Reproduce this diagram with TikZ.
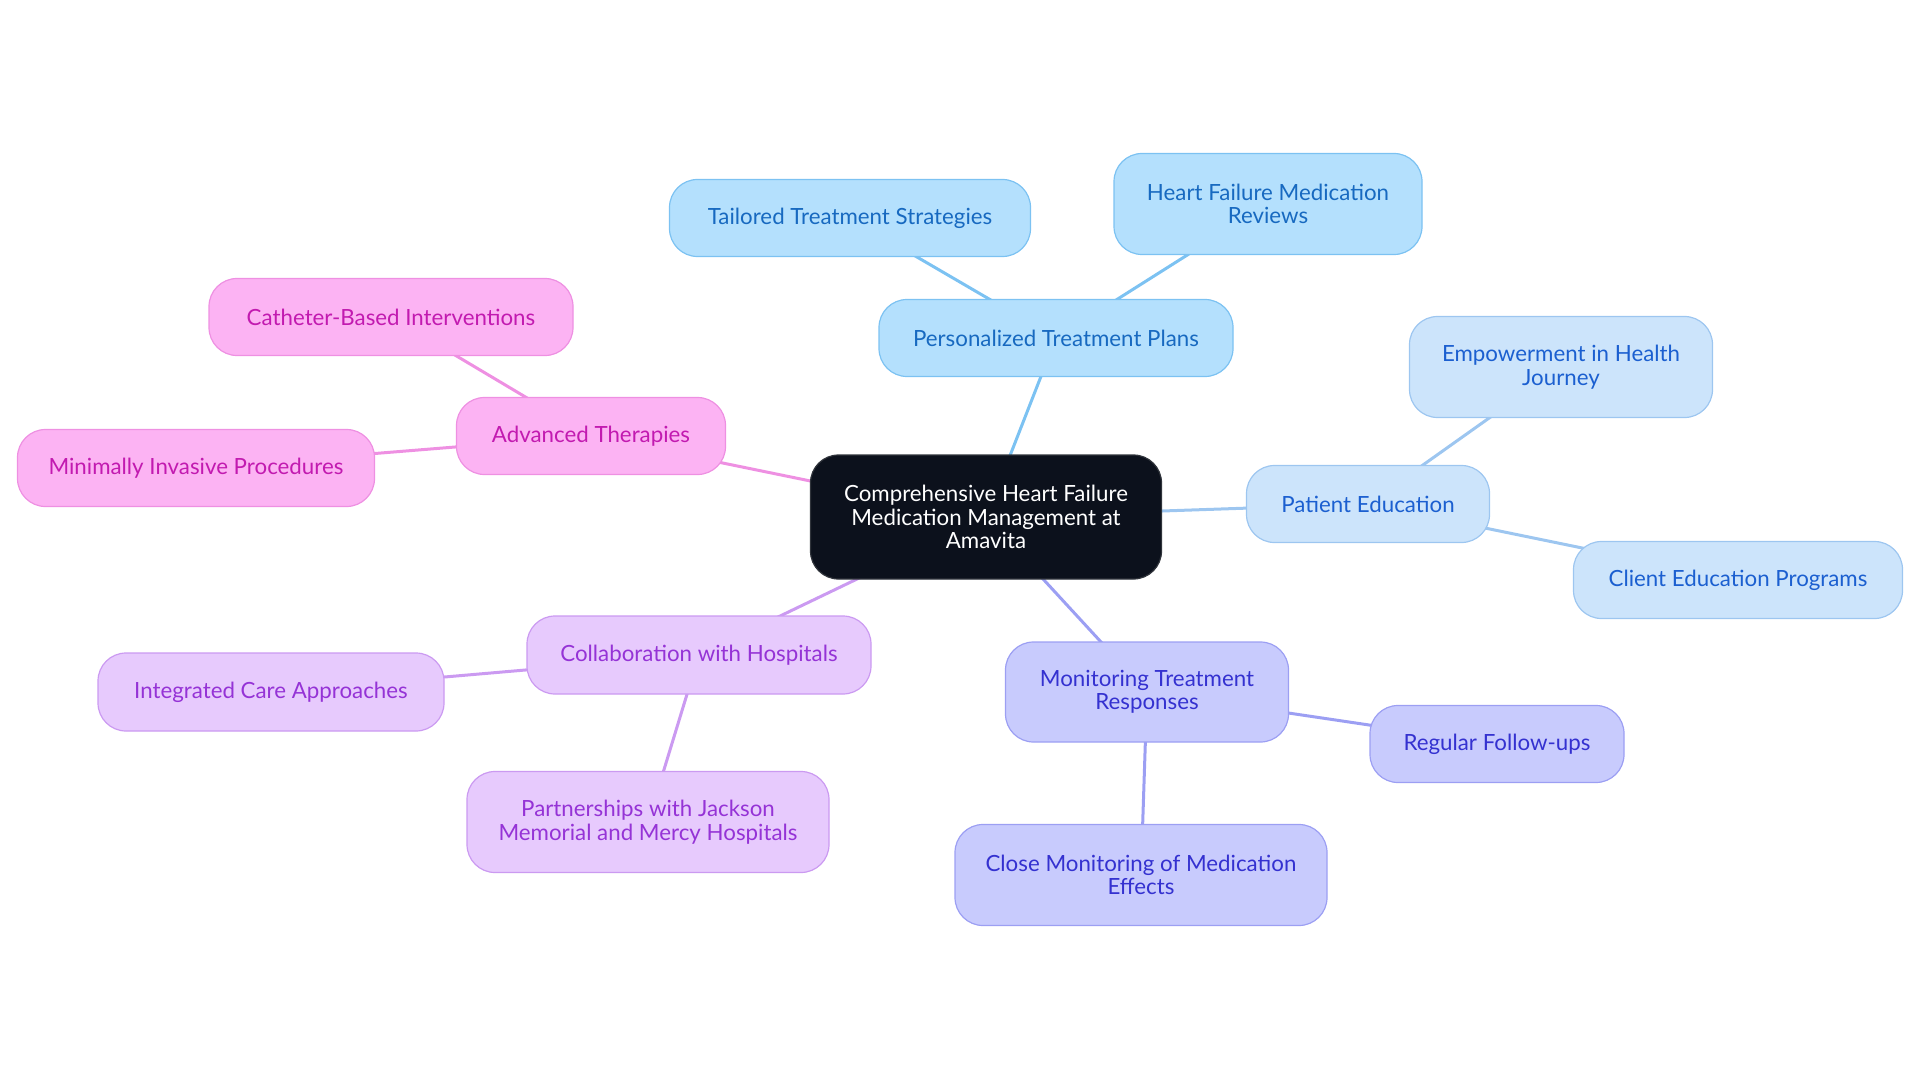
\documentclass[tikz,border=0pt]{standalone}
\usepackage{fontspec}
\setmainfont{Lato}
\usetikzlibrary{positioning}
\pgfdeclarelayer{background}
\pgfsetlayers{background,main}

\definecolor{rootfill}{HTML}{0C111C}
\definecolor{rootline}{HTML}{30343B}
\definecolor{planfill}{HTML}{B4E0FD}
\definecolor{planline}{HTML}{7CC2F2}
\definecolor{plantext}{HTML}{1769C0}
\definecolor{edufill}{HTML}{CCE4FB}
\definecolor{eduline}{HTML}{9DC6F0}
\definecolor{edutext}{HTML}{1B5FD0}
\definecolor{monfill}{HTML}{C8CBFD}
\definecolor{monline}{HTML}{9C9FF3}
\definecolor{montext}{HTML}{3431D0}
\definecolor{colfill}{HTML}{E7CAFD}
\definecolor{colline}{HTML}{CB9AF1}
\definecolor{coltext}{HTML}{9533D6}
\definecolor{advfill}{HTML}{FCB3F3}
\definecolor{advline}{HTML}{EE90E2}
\definecolor{advtext}{HTML}{C21AB0}

\begin{document}
\begin{tikzpicture}[x=1pt,y=-1pt,
	box/.style 2 args={rounded corners=28pt,inner sep=0pt,align=center,line width=1.2pt,minimum width=#1pt,minimum height=#2pt,font=\fontsize{22.3}{23.5}\selectfont},
	root/.style={fill=rootfill,draw=rootline,text=white},
	plan/.style={fill=planfill,draw=planline,text=plantext},
	edu/.style={fill=edufill,draw=eduline,text=edutext},
	mon/.style={fill=monfill,draw=monline,text=montext},
	col/.style={fill=colfill,draw=colline,text=coltext},
	adv/.style={fill=advfill,draw=advline,text=advtext},
	link/.style={line width=3pt}]
		\useasboundingbox (0,0) rectangle (1920,1083);

		\node[root,box={351}{124}]	(root)		at (986,517)	{Comprehensive Heart Failure\\Medication Management at\\Amavita};

		\node[plan,box={354}{77}]	(plans)		at (1056,338)	{Personalized Treatment Plans};
		\node[plan,box={361}{77}]	(tailored)	at (850,218)	{Tailored Treatment Strategies};
		\node[plan,box={308}{101}]	(reviews)	at (1268,204)	{Heart Failure Medication\\Reviews};

		\node[edu,box={243}{77}]	(edu)		at (1368,504)	{Patient Education};
		\node[edu,box={303}{101}]	(empower)	at (1561,367)	{Empowerment in Health\\Journey};
		\node[edu,box={329}{77}]	(programs)	at (1738,580)	{Client Education Programs};

		\node[mon,box={283}{100}]	(mon)		at (1147,692)	{Monitoring Treatment\\Responses};
		\node[mon,box={254}{77}]	(followup)	at (1497,744)	{Regular Follow-ups};
		\node[mon,box={372}{101}]	(close)		at (1141,875)	{Close Monitoring of Medication\\Effects};

		\node[col,box={344}{78}]	(collab)	at (699,655)	{Collaboration with Hospitals};
		\node[col,box={346}{78}]	(integrated)	at (271,692)	{Integrated Care Approaches};
		\node[col,box={362}{101}]	(partners)	at (648,822)	{Partnerships with Jackson\\Memorial and Mercy Hospitals};

		\node[adv,box={269}{77}]	(adv)		at (591,436)	{Advanced Therapies};
		\node[adv,box={364}{77}]	(catheter)	at (391,317)	{Catheter-Based Interventions};
		\node[adv,box={357}{77}]	(minimal)	at (196,468)	{Minimally Invasive Procedures};

		\begin{pgfonlayer}{background}
		\draw[link,planline] (root.center) -- (plans.center);
		\draw[link,planline] (plans.center) -- (tailored.center);
		\draw[link,planline] (plans.center) -- (reviews.center);
		\draw[link,eduline] (root.center) -- (edu.center);
		\draw[link,eduline] (edu.center) -- (empower.center);
		\draw[link,eduline] (edu.center) -- (programs.center);
		\draw[link,monline] (root.center) -- (mon.center);
		\draw[link,monline] (mon.center) -- (followup.center);
		\draw[link,monline] (mon.center) -- (close.center);
		\draw[link,colline] (root.center) -- (collab.center);
		\draw[link,colline] (collab.center) -- (integrated.center);
		\draw[link,colline] (collab.center) -- (partners.center);
		\draw[link,advline] (root.center) -- (adv.center);
		\draw[link,advline] (adv.center) -- (catheter.center);
		\draw[link,advline] (adv.center) -- (minimal.center);
		\end{pgfonlayer}
	\end{tikzpicture}
\end{document}
